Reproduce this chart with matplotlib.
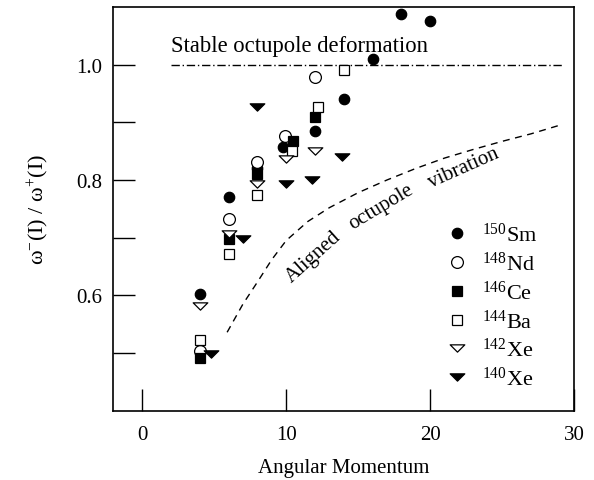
import matplotlib
matplotlib.use("Agg")
import matplotlib.pyplot as plt
from matplotlib.path import Path
import numpy as np

plt.rcParams['font.family'] = ['Liberation Serif', 'DejaVu Serif']
plt.rcParams['mathtext.fontset'] = 'custom'
plt.rcParams['mathtext.rm'] = 'Liberation Serif'
plt.rcParams['mathtext.it'] = 'Liberation Serif:italic'

# ---- data ----
sm_x = [4, 6, 8, 9.8, 12, 14, 16, 18, 20]
sm_y = [0.603, 0.770, 0.820, 0.857, 0.885, 0.94, 1.01, 1.087, 1.075]
nd_x = [4, 6, 8, 9.9, 12]
nd_y = [0.504, 0.733, 0.831, 0.876, 0.978]
ce_x = [4, 6, 8, 10.5, 12]
ce_y = [0.491, 0.697, 0.810, 0.868, 0.910]
ba_x = [4, 6, 8, 10.4, 12.2, 14]
ba_y = [0.522, 0.672, 0.774, 0.850, 0.927, 0.990]
xe142_x = [4, 6, 8, 10, 12]
xe142_y = [0.582, 0.707, 0.793, 0.836, 0.850]
xe140_x = [4.8, 7, 8, 10, 11.8, 13.9]
xe140_y = [0.499, 0.698, 0.927, 0.793, 0.800, 0.840]

labels = [r'$^{150}$Sm', r'$^{148}$Nd', r'$^{146}$Ce', r'$^{144}$Ba', r'$^{142}$Xe', r'$^{140}$Xe']

# aligned octupole vibration curve
vib_x = [5.9, 7, 8, 9, 10, 11.5, 13, 15, 17, 19, 21, 23, 25, 27, 29]
vib_y = [0.536, 0.585, 0.623, 0.662, 0.695, 0.728, 0.752, 0.778, 0.800, 0.820, 0.838, 0.853, 0.867, 0.880, 0.895]

stable_x = [2, 29.2]
stable_y = [1.0, 1.0]

xticks = [0, 10, 20, 30]
yticks = [0.5, 0.6, 0.7, 0.8, 0.9, 1.0]
ytick_labels = ['', '0.6', '', '0.8', '', '1.0']

# flattened down-triangle marker
tri = Path([(-1, 0.5), (1, 0.5), (0, -0.5), (-1, 0.5)],
           [Path.MOVETO, Path.LINETO, Path.LINETO, Path.CLOSEPOLY])

fig = plt.figure(figsize=(5.94, 4.81), dpi=100)
ax = fig.add_axes([0.1908, 0.144, 0.776, 0.8396])

ax.plot(stable_x, stable_y, color='black', lw=1.0, linestyle=(0, (6, 2, 1, 2)))
ax.plot(vib_x, vib_y, color='black', lw=1.0, linestyle=(0, (5, 4)))

kw = dict(linestyle='none', color='black', markeredgewidth=0.9)
ax.plot(sm_x, sm_y, marker='o', ms=7.5, mfc='black', label=labels[0], **kw)
ax.plot(nd_x, nd_y, marker='o', ms=8.5, mfc='white', label=labels[1], **kw)
ax.plot(ce_x, ce_y, marker='s', ms=6.5, mfc='black', label=labels[2], **kw)
ax.plot(ba_x, ba_y, marker='s', ms=6.5, mfc='white', label=labels[3], **kw)
ax.plot(xe142_x, xe142_y, marker=tri, ms=10.5, mfc='white', label=labels[4], **kw)
ax.plot(xe140_x, xe140_y, marker=tri, ms=10.5, mfc='black', label=labels[5], **kw)

ax.set_xlim(-2, 30)
ax.set_ylim(0.4, 1.1)
ax.set_xticks(xticks)
ax.set_yticks(yticks)
ax.set_yticklabels(ytick_labels)
ax.tick_params(direction='in', length=15.5, width=1.0, labelsize=15, pad=10,
               top=False, right=False)
ax.tick_params(axis='y', pad=8)
for s in ax.spines.values():
    s.set_linewidth(1.2)

ax.set_xlabel('Angular Momentum', fontsize=15, labelpad=10)
ax.set_ylabel(r'ω$^{-}$(I) / ω$^{+}$(I)', fontsize=16, labelpad=18)

ax.text(2.0, 1.033, 'Stable octupole deformation', fontsize=16.3, ha='left', va='center')
ax.text(11.9, 0.668, 'Aligned', fontsize=15, rotation=42, ha='center', va='center', rotation_mode='anchor')
ax.text(16.6, 0.755, 'octupole', fontsize=15, rotation=31, ha='center', va='center', rotation_mode='anchor')
ax.text(22.3, 0.822, 'vibration', fontsize=15, rotation=24, ha='center', va='center', rotation_mode='anchor')

leg = ax.legend(loc='upper left', bbox_to_anchor=(0.722, 0.465), frameon=False,
                fontsize=16, handlelength=1.0, handletextpad=0.6, labelspacing=0.25,
                borderaxespad=0, borderpad=0)

fig.savefig('out.png', dpi=100)
